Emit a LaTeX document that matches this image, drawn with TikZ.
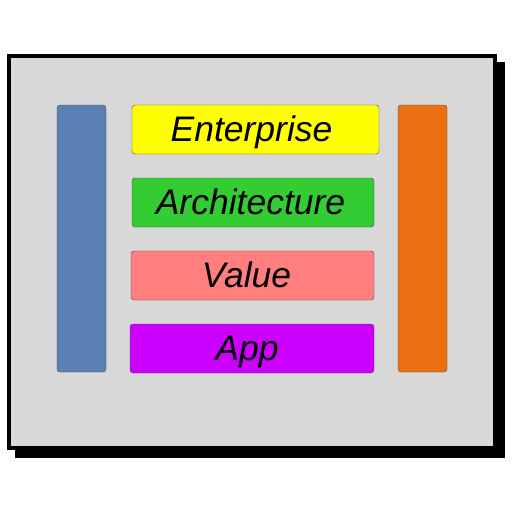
\documentclass[tikz,border=0pt]{standalone}
\usepackage{fontspec}
\setmainfont{Liberation Sans}
\definecolor{panelgray}{HTML}{D8D8D8}
\definecolor{barblue}{HTML}{5A80B4}
\definecolor{barorange}{HTML}{EA6F10}
\definecolor{layeryellow}{HTML}{FFFF00}
\definecolor{layergreen}{HTML}{33CC33}
\definecolor{layerpink}{HTML}{FF7F7F}
\definecolor{layerpurple}{HTML}{CC00FF}
\tikzset{
  bar/.style={draw=black!70,rounded corners=3pt,thin,minimum width=49pt,minimum height=267pt,inner sep=0pt},
  layer/.style={draw=black!70,rounded corners=3pt,thin,minimum height=49pt,inner sep=0pt,
    text height=24pt,text depth=0pt,font=\itshape\fontsize{35.5}{36}\selectfont},
}

\begin{document}
\begin{tikzpicture}[x=1pt,y=-1pt]
\useasboundingbox (0,0) rectangle (512,512);
% frame with shadow
\fill[black] (15,62) rectangle (505,458);
\draw[line width=4pt,fill=panelgray] (9,56) rectangle (495,448);

% side bars
\node[bar,fill=barblue] (left) at (81.5,238.5) {};
\node[bar,fill=barorange] (right) at (422.5,238.5) {};

% layers
\node[layer,fill=layeryellow,minimum width=247pt] (ent) at (255.5,129.5) {Enterprise\hspace*{8pt}};
\node[layer,fill=layergreen,minimum width=242pt] (arch) at (253,202.5) {Architecture\hspace*{5pt}};
\node[layer,fill=layerpink,minimum width=243pt] (val) at (252.5,275.5) {Value\hspace*{12pt}};
\node[layer,fill=layerpurple,minimum width=244pt] (app) at (252,348.5) {App\hspace*{10pt}};
\end{tikzpicture}
\end{document}
